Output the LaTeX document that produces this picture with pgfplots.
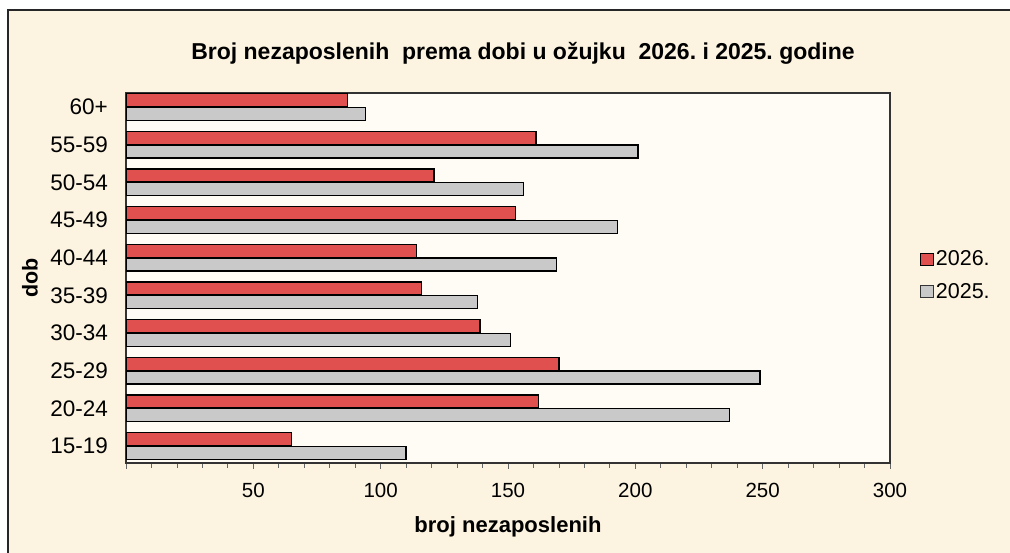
\documentclass[border=0pt]{standalone}
\usepackage{pgfplots}
\pgfplotsset{compat=1.18}
\usepackage{fontspec}
\setmainfont{Liberation Sans}
\frenchspacing
\definecolor{cream}{HTML}{FCF3E0}
\definecolor{plotbg}{HTML}{FFFCF6}
\definecolor{barred}{HTML}{E0504F}
\definecolor{bargray}{HTML}{C9C9C9}
\begin{document}
\begin{tikzpicture}
\useasboundingbox (0,0) rectangle (1010pt,553pt);
\fill[white] (0,0) rectangle (1010pt,553pt);
\filldraw[fill=cream, draw=black!85, line width=1.6pt] (8pt,-10pt) rectangle (1030pt,543pt);
\begin{axis}[
  at={(126pt,90pt)}, anchor=south west,
  scale only axis, width=764pt, height=370pt,
  xmin=0, xmax=300, ymin=-0.451, ymax=9.372,
  axis background/.style={fill=plotbg},
  axis line style={draw=black!80, line width=1.2pt},
  xtick={0,50,...,300},
  xticklabels={{},50,100,150,200,250,300},
  minor x tick num=4,
  xtick pos=bottom, tick align=outside,
  major tick length=6pt, minor tick length=5pt,
  every tick/.style={draw=black!60, line width=0.8pt},
  ytick={0,...,9},
  yticklabels={15-19,20-24,25-29,30-34,35-39,40-44,45-49,50-54,55-59,60+},
  ytick style={draw=none},
  /pgf/number format/assume math mode=true,
  xticklabel style={anchor=base, yshift=-29pt, font=\fontsize{20.5}{24}\selectfont},
  yticklabel style={anchor=east, inner sep=0pt, xshift=-12pt, font=\fontsize{22.5}{26}\selectfont},
  title={Broj nezaposlenih\ \ prema dobi u ožujku\ \ 2026. i 2025. godine},
  title style={at={(axis description cs:0.5196,1.075)}, anchor=base, font=\bfseries\fontsize{23}{27}\selectfont},
  xlabel={broj nezaposlenih},
  xlabel style={at={(axis description cs:0.5,-0.187)}, anchor=base, font=\bfseries\fontsize{22}{26}\selectfont},
  ylabel={dob},
  ylabel style={at={(axis description cs:-0.1257,0.5)}, anchor=center, font=\bfseries\fontsize{21.5}{26}\selectfont},
  legend style={at={(axis description cs:1.039,0.579)}, anchor=north west, draw=none, fill=none,
    font=\fontsize{21.5}{24}\selectfont, row sep=12pt, inner sep=0pt, cells={anchor=west}},
  bar width=13pt,
]
\addplot[xbar, bar shift=6.75pt, fill=barred, draw=black, line width=1.3pt,
  legend image code/.code={\draw[fill=barred, draw=black, line width=0.9pt] (0pt,-6pt) rectangle (13pt,6pt);}]
  table[x=v, y=c] {
c v
0 65
1 162
2 170
3 139
4 116
5 114
6 153
7 121
8 161
9 87
};
\addlegendentry{2026.}
\addplot[xbar, bar shift=-6.75pt, fill=bargray, draw=black, line width=1.3pt,
  legend image code/.code={\draw[fill=bargray, draw=black!80, line width=0.9pt] (0pt,-6pt) rectangle (13pt,6pt);}]
  table[x=v, y=c] {
c v
0 110
1 237
2 249
3 151
4 138
5 169
6 193
7 156
8 201
9 94
};
\addlegendentry{2025.}
\end{axis}
\end{tikzpicture}
\end{document}
